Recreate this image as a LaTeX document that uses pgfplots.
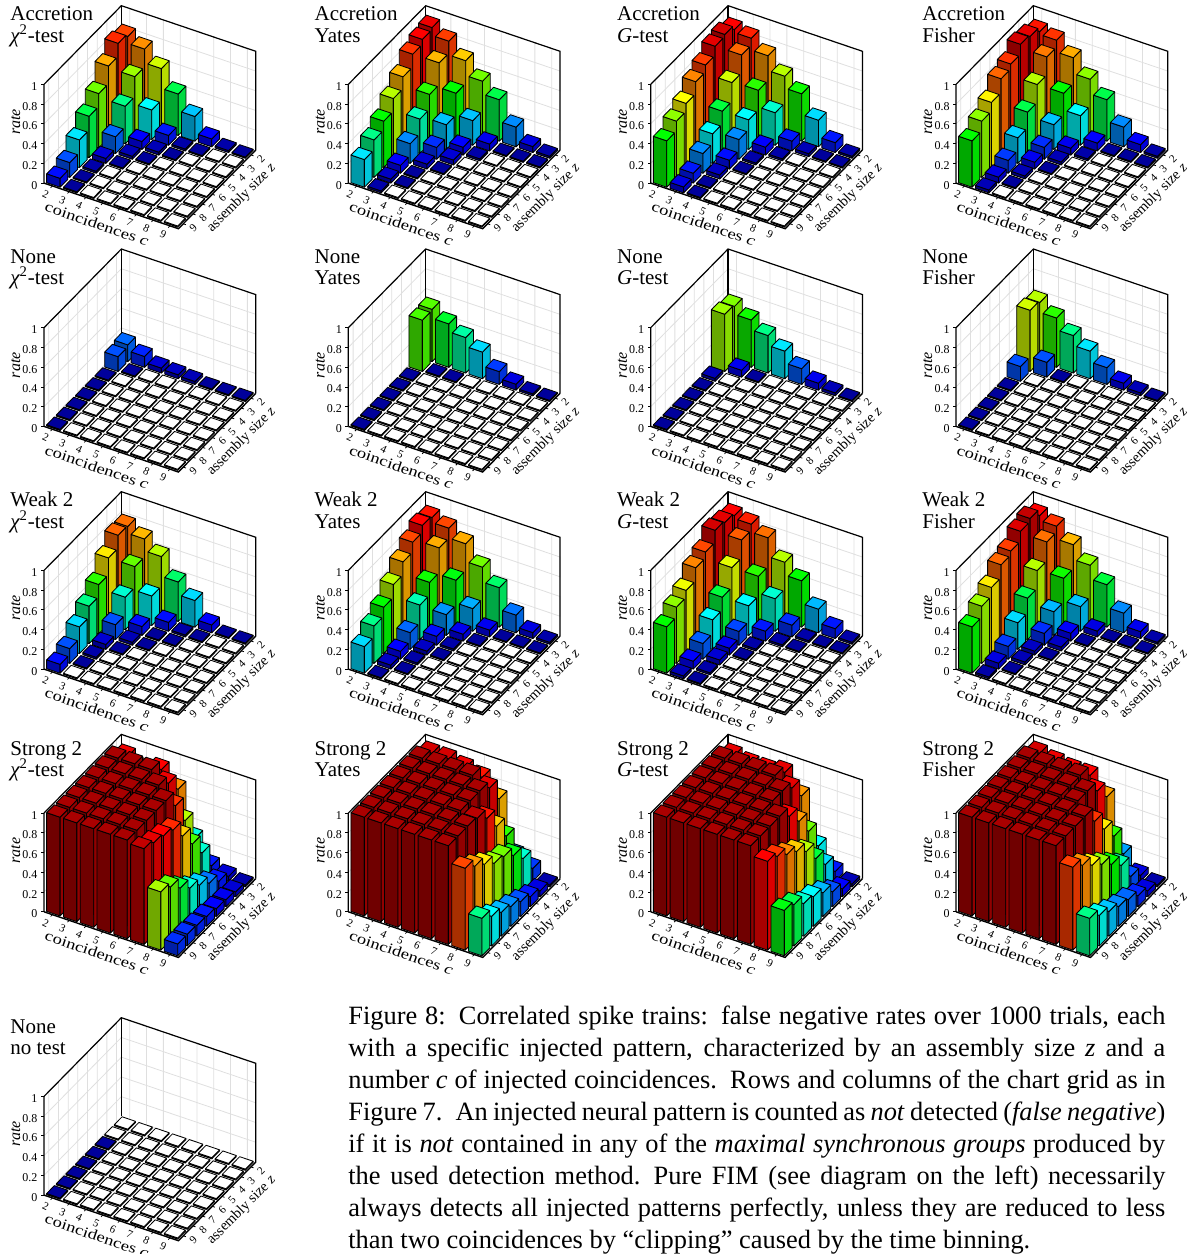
\documentclass[border=0pt]{standalone}
\usepackage{fontspec}
\setmainfont{Liberation Serif}
\usepackage{graphicx}
\usepackage{pgfplots}
\pgfplotsset{compat=1.18}
\newcommand\fs[2]{\fontsize{#1}{#2}\selectfont}
\newcount\cc \newcount\zz
\newcommand\buildbars[1]{%
 \gdef\barlist{}\global\cc=2 \global\zz=2
 \foreach \v in {#1}{%
  \pgfmathsetmacro\xa{\the\cc-0.4}\pgfmathsetmacro\xb{\the\cc+0.4}%
  \pgfmathsetmacro\ya{\the\zz-0.4}\pgfmathsetmacro\yb{\the\zz+0.4}%
  \pgfmathsetmacro\h{max(\v,0.012)}%
  \ifdim\v pt=0pt
   \def\mf{rgb=1,1,1}\def\ms{rgb=1,1,1}\def\mt{rgb=1,1,1}%
  \else
   \pgfmathsetmacro\cR{\v<.47?0:(\v<.65?(\v-.47)/.18:(\v<.9?1:1-(\v-.9)*3.33))}%
   \pgfmathsetmacro\cG{\v<.08?0:(\v<.3?(\v-.08)/.22:(\v<.65?1:(\v<.9?1-(\v-.65)/.25:0)))}%
   \pgfmathsetmacro\cB{\v<.08?.55+\v*5.6:(\v<.3?1:(\v<.47?1-(\v-.3)/.17:0))}%
   \pgfmathsetmacro\fR{.66*\cR}\pgfmathsetmacro\fG{.66*\cG}\pgfmathsetmacro\fB{.66*\cB}%
   \pgfmathsetmacro\sR{.86*\cR}\pgfmathsetmacro\sG{.86*\cG}\pgfmathsetmacro\sB{.86*\cB}%
   \edef\mf{rgb=\fR,\fG,\fB}\edef\ms{rgb=\sR,\sG,\sB}\edef\mt{rgb=\cR,\cG,\cB}%
  \fi
  \xdef\barlist{\barlist
   (\xa,\yb,0)[\mf](\xb,\yb,0)[\mf](\xb,\yb,\h)[\mf](\xa,\yb,\h)[\mf]
   (\xb,\yb,0)[\ms](\xb,\ya,0)[\ms](\xb,\ya,\h)[\ms](\xb,\yb,\h)[\ms]
   (\xa,\ya,\h)[\mt](\xb,\ya,\h)[\mt](\xb,\yb,\h)[\mt](\xa,\yb,\h)[\mt]}%
  \global\advance\cc by 1
  \ifnum\cc>9 \global\cc=2 \global\advance\zz by 1 \fi
 }}
\pgfplotsset{
 barstyle/.style={patch, patch type=rectangle, shader=faceted, faceted color=black, line width=0.42pt, mesh/color input=explicit, point meta=explicit symbolic, z buffer=none},
 wallgrid/.style={gray!25,line width=0.4pt,forget plot},
 panel/.style={
  anchor=south west, clip=false,
  x={(8.4pt,-2.85pt)}, y={(-4.835pt,-4.92pt)}, z={(0pt,49.35pt)},
  xmin=1.5,xmax=9.5,ymin=1.5,ymax=9.5,zmin=0,zmax=1,
  xtick={2,...,9}, ytick={2,...,9}, ztick={0,0.2,0.4,0.6,0.8,1},
  xtick pos=left, ytick pos=left, ztick pos=left,
  axis line style={draw=none},
  tick style={draw=none}, major tick length=1.5pt, tick align=outside,
  /pgf/number format/assume math mode=true,
  tick label style={font=\fs{5.6}{6}, inner sep=0pt},
  xticklabel style={xshift=-2.3pt,yshift=-3.1pt,rotate=-25,anchor=center},
  yticklabel style={xshift=3.6pt,yshift=-1.4pt,rotate=45,anchor=center},
  zticklabel style={anchor=east,xshift=-2pt,font=\fs{6}{6}},
  xlabel={\scalebox{1.16}[0.92]{coincidences \textit{c}}}, ylabel={assembly size \textit{z}}, zlabel={\textit{rate}},
  xlabel style={at={(rel axis cs:0,1,0)},anchor=center,xshift=26.5pt,yshift=-20.4pt,rotate=-19,font=\fs{8}{10},inner sep=0pt},
  ylabel style={at={(rel axis cs:0,1,0)},anchor=center,xshift=98.8pt,yshift=-7.6pt,rotate=45,font=\fs{7.3}{9},inner sep=0pt},
  zlabel style={at={(rel axis cs:0,1,0)},anchor=center,xshift=30.6pt,yshift=14.1pt,font=\fs{8}{9},inner sep=0pt},
 }}
\newcommand\panel[6]{% x, y, baseline y, title 1, title 2, values (z=2..9, c=2..9)
 \begin{axis}[panel, at={(#1*0.5pt,-#2*0.5pt-22.85pt)}]
  \addplot3[wallgrid] coordinates {(2,1.5,0)(2,1.5,1)(3,1.5,1)(3,1.5,0)(4,1.5,0)(4,1.5,1)(5,1.5,1)(5,1.5,0)(6,1.5,0)(6,1.5,1)(7,1.5,1)(7,1.5,0)(8,1.5,0)(8,1.5,1)(9,1.5,1)(9,1.5,0)};
  \addplot3[wallgrid] coordinates {(1.5,2,0)(1.5,2,1)(1.5,3,1)(1.5,3,0)(1.5,4,0)(1.5,4,1)(1.5,5,1)(1.5,5,0)(1.5,6,0)(1.5,6,1)(1.5,7,1)(1.5,7,0)(1.5,8,0)(1.5,8,1)(1.5,9,1)(1.5,9,0)};
  \addplot3[wallgrid] coordinates {(1.5,1.5,0.2)(9.5,1.5,0.2)(9.5,1.5,0.4)(1.5,1.5,0.4)(1.5,1.5,0.6)(9.5,1.5,0.6)(9.5,1.5,0.8)(1.5,1.5,0.8)};
  \addplot3[wallgrid] coordinates {(1.5,1.5,0.2)(1.5,9.5,0.2)(1.5,9.5,0.4)(1.5,1.5,0.4)(1.5,1.5,0.6)(1.5,9.5,0.6)(1.5,9.5,0.8)(1.5,1.5,0.8)};
  \addplot3[black,line width=0.6pt,forget plot] coordinates {(1.5,9.5,0)(1.5,9.5,1)(1.5,1.5,1)(9.5,1.5,1)(9.5,1.5,0)};
  \addplot3[black,line width=0.6pt,forget plot] coordinates {(1.5,1.5,1)(1.5,1.5,0)};
  \buildbars{#6}%
  \edef\tmp{\noexpand\addplot3[barstyle] coordinates {\barlist};}\tmp
  \addplot3[black,line width=0.7pt,forget plot] coordinates {(1.5,9.5,0)(9.5,9.5,0)(9.5,1.5,0)};
  \pgfplotsforeachungrouped \t in {2,...,9}{%
   \edef\tmp{\noexpand\draw[line width=0.4pt] (axis cs:\t,9.5,0)--(axis cs:\t,9.68,0);
    \noexpand\draw[line width=0.4pt] (axis cs:9.5,\t,0)--(axis cs:9.66,\t,0);}\tmp}%
  \pgfplotsforeachungrouped \t in {0,0.2,0.4,0.6,0.8,1}{%
   \edef\tmp{\noexpand\draw[line width=0.4pt] (axis cs:1.5,9.5,\t)--++(-1.6pt,0pt);}\tmp}%
 \end{axis}
 \node[anchor=base west,inner sep=0pt,font=\fs{10.5}{10.75}] at ({(#1-34)*0.5pt},{-#3*0.5pt}) {#4};
 \node[anchor=base west,inner sep=0pt,font=\fs{10.5}{10.75}] at ({(#1-34)*0.5pt},{-(#3+21.3)*0.5pt}) {#5};
}
\newcommand\chisq{{\itshape χ}\textsuperscript{2}-test}
\newcommand\gtest{\textit{G}-test}
\begin{document}
\begin{tikzpicture}
\useasboundingbox (0,0) rectangle (599pt,-627pt);
% ---- Accretion
\panel{44}{183}{20.7}{Accretion}{\chisq}{
.83,.76,.62,.42,.25,.08,.02,.01,
.86,.58,.30,.10,.02,.01,0,0,
.73,.38,.08,.03,.01,0,0,0,
.55,.17,.03,.01,0,0,0,0,
.42,.05,.01,0,0,0,0,0,
.28,.02,0,0,0,0,0,0,
.15,.01,0,0,0,0,0,0,
.09,.01,0,0,0,0,0,0}
\panel{348.3}{183}{20.7}{Accretion}{Yates}{
.92,.84,.70,.55,.42,.20,.06,.02,
.90,.72,.47,.25,.07,.01,.01,.01,
.85,.50,.25,.08,.02,0,0,0,
.72,.35,.12,.05,0,0,0,0,
.60,.20,.05,.01,0,0,0,0,
.47,.08,.01,0,0,0,0,0,
.38,.04,.01,0,0,0,0,0,
.28,.02,0,0,0,0,0,0}
\panel{650.7}{183}{20.7}{Accretion}{\gtest}{
.90,.87,.75,.60,.48,.27,.10,.02,
.95,.80,.50,.33,.10,.03,.01,.01,
.93,.62,.30,.08,.02,0,0,0,
.84,.43,.20,.02,0,0,0,0,
.77,.30,.09,.01,0,0,0,0,
.65,.20,.04,0,0,0,0,0,
.57,.10,.01,0,0,0,0,0,
.47,.06,.01,0,0,0,0,0}
\panel{956}{183}{20.7}{Accretion}{Fisher}{
.88,.85,.73,.57,.42,.20,.08,.02,
.93,.78,.47,.30,.08,.01,.01,.01,
.95,.60,.25,.07,.02,0,0,0,
.85,.42,.12,.03,0,0,0,0,
.80,.26,.07,.01,0,0,0,0,
.66,.13,.03,0,0,0,0,0,
.57,.06,.01,0,0,0,0,0,
.47,.03,0,0,0,0,0,0}
% ---- None
\panel{44}{426.3}{263.3}{None}{\chisq}{
.17,.11,.05,.04,.03,.01,.01,.01,
.15,.01,0,0,0,0,0,0,
.01,0,0,0,0,0,0,0,
.01,0,0,0,0,0,0,0,
.01,0,0,0,0,0,0,0,
.01,0,0,0,0,0,0,0,
.01,0,0,0,0,0,0,0,
.01,0,0,0,0,0,0,0}
\panel{348.3}{426.3}{263.3}{None}{Yates}{
.53,.44,.36,.27,.13,.06,.02,.01,
.52,.01,.01,0,0,0,0,0,
.01,0,0,0,0,0,0,0,
.01,0,0,0,0,0,0,0,
.01,0,0,0,0,0,0,0,
.01,0,0,0,0,0,0,0,
.01,0,0,0,0,0,0,0,
.01,0,0,0,0,0,0,0}
\panel{650.7}{426.3}{263.3}{None}{\gtest}{
.56,.48,.38,.28,.16,.07,.03,.01,
.58,.07,.01,0,0,0,0,0,
.03,0,0,0,0,0,0,0,
.01,0,0,0,0,0,0,0,
.01,0,0,0,0,0,0,0,
.01,0,0,0,0,0,0,0,
.01,0,0,0,0,0,0,0,
.01,0,0,0,0,0,0,0}
\panel{956}{426.3}{263.3}{None}{Fisher}{
.60,.50,.38,.28,.17,.07,.03,.01,
.62,.15,.01,0,0,0,0,0,
.15,0,0,0,0,0,0,0,
.01,0,0,0,0,0,0,0,
.01,0,0,0,0,0,0,0,
.01,0,0,0,0,0,0,0,
.01,0,0,0,0,0,0,0,
.01,0,0,0,0,0,0,0}
% ---- Weak 2
\panel{44}{669}{506.7}{Weak 2}{\chisq}{
.79,.72,.60,.40,.27,.08,.01,.01,
.80,.54,.30,.09,.02,.01,0,0,
.67,.33,.09,.01,.01,0,0,0,
.50,.15,.03,.01,0,0,0,0,
.38,.05,.01,0,0,0,0,0,
.27,.02,0,0,0,0,0,0,
.15,.01,0,0,0,0,0,0,
.09,0,0,0,0,0,0,0}
\panel{348.3}{669}{506.7}{Weak 2}{Yates}{
.88,.83,.73,.55,.40,.18,.06,.02,
.90,.73,.46,.23,.07,.01,.01,.01,
.83,.48,.21,.07,.01,0,0,0,
.73,.35,.09,.02,0,0,0,0,
.60,.17,.04,.01,0,0,0,0,
.47,.08,.02,0,0,0,0,0,
.38,.04,.01,0,0,0,0,0,
.27,.01,0,0,0,0,0,0}
\panel{650.7}{669}{506.7}{Weak 2}{\gtest}{
.90,.87,.79,.60,.47,.24,.10,.02,
.93,.81,.50,.33,.12,.02,.01,.01,
.95,.63,.30,.10,.02,.01,0,0,
.83,.43,.14,.02,0,0,0,0,
.77,.30,.07,.01,0,0,0,0,
.64,.16,.05,0,0,0,0,0,
.57,.08,.02,0,0,0,0,0,
.47,.03,.01,0,0,0,0,0}
\panel{956}{669}{506.7}{Weak 2}{Fisher}{
.90,.85,.72,.57,.43,.20,.07,.02,
.97,.79,.48,.25,.06,.01,.01,.01,
.94,.60,.24,.08,.01,0,0,0,
.84,.42,.12,.04,0,0,0,0,
.80,.27,.04,.01,0,0,0,0,
.67,.13,.03,0,0,0,0,0,
.58,.06,.01,0,0,0,0,0,
.47,.02,0,0,0,0,0,0}
% ---- Strong 2
\panel{44}{911.7}{755}{Strong 2}{\chisq}{
.92,.85,.90,.76,.32,.10,.05,.02,
1,1,1,.92,.60,.33,.10,.05,
1,1,1,1,.85,.52,.18,.07,
1,1,1,1,1,.70,.26,.08,
1,1,1,1,1,.86,.33,.10,
1,1,1,1,1,.90,.43,.11,
1,1,1,1,1,.93,.54,.12,
1,1,1,1,1,.97,.59,.12}
\panel{348.3}{911.7}{755}{Strong 2}{Yates}{
.95,.95,.92,.88,.72,.21,.13,.02,
1,1,1,1,.93,.50,.33,.06,
1,1,1,1,1,.70,.46,.10,
1,1,1,1,1,.88,.55,.15,
1,1,1,1,1,.98,.58,.20,
1,1,1,1,1,1,.67,.24,
1,1,1,1,1,1,.75,.30,
1,1,1,1,1,1,.83,.38}
\panel{650.7}{911.7}{755}{Strong 2}{\gtest}{
.93,.90,.90,.93,.75,.30,.10,.03,
1,1,1,1,.93,.55,.27,.08,
1,1,1,1,1,.75,.43,.15,
1,1,1,1,1,.90,.60,.24,
1,1,1,1,1,1,.70,.30,
1,1,1,1,1,1,.77,.33,
1,1,1,1,1,1,.85,.42,
1,1,1,1,1,1,.90,.46}
\panel{956}{911.7}{755}{Strong 2}{Fisher}{
.95,.92,.90,.90,.74,.22,.06,.02,
1,1,1,1,.90,.50,.15,.06,
1,1,1,1,1,.67,.36,.11,
1,1,1,1,1,.85,.47,.17,
1,1,1,1,1,1,.57,.20,
1,1,1,1,1,1,.66,.25,
1,1,1,1,1,1,.76,.31,
1,1,1,1,1,1,.84,.38}
% ---- None, no test
\panel{44}{1195}{1033}{None}{no test}{
0,0,0,0,0,0,0,0,
0,0,0,0,0,0,0,0,
.01,0,0,0,0,0,0,0,
.01,0,0,0,0,0,0,0,
.01,0,0,0,0,0,0,0,
.01,0,0,0,0,0,0,0,
.01,0,0,0,0,0,0,0,
.01,0,0,0,0,0,0,0}
% ---- caption
\node[anchor=north west,inner sep=0pt,text width=408.5pt,font=\fs{13.2}{16.05}] at (174pt,-502.5pt) {%
\spaceskip=.25em plus 1em minus .12em
\hbox to 408.5pt{Figure 8: Correlated spike trains: false negative rates over 1000 trials, each}
\hbox to 408.5pt{with a specific injected pattern, characterized by an assembly size \textit{z} and a}
\hbox to 408.5pt{number \textit{c} of injected coincidences. Rows and columns of the chart grid as in}
\hbox to 408.5pt{Figure 7. An injected neural pattern is counted as \textit{not} detected (\textit{false negative})}
\hbox to 408.5pt{if it is \textit{not} contained in any of the \textit{maximal synchronous groups} produced by}
\hbox to 408.5pt{the used detection method. Pure FIM (see diagram on the left) necessarily}
\hbox to 408.5pt{always detects all injected patterns perfectly, unless they are reduced to less}
\hbox to 408.5pt{than two coincidences by “clipping” caused by the time binning.\hfil}
};
\end{tikzpicture}
\end{document}
